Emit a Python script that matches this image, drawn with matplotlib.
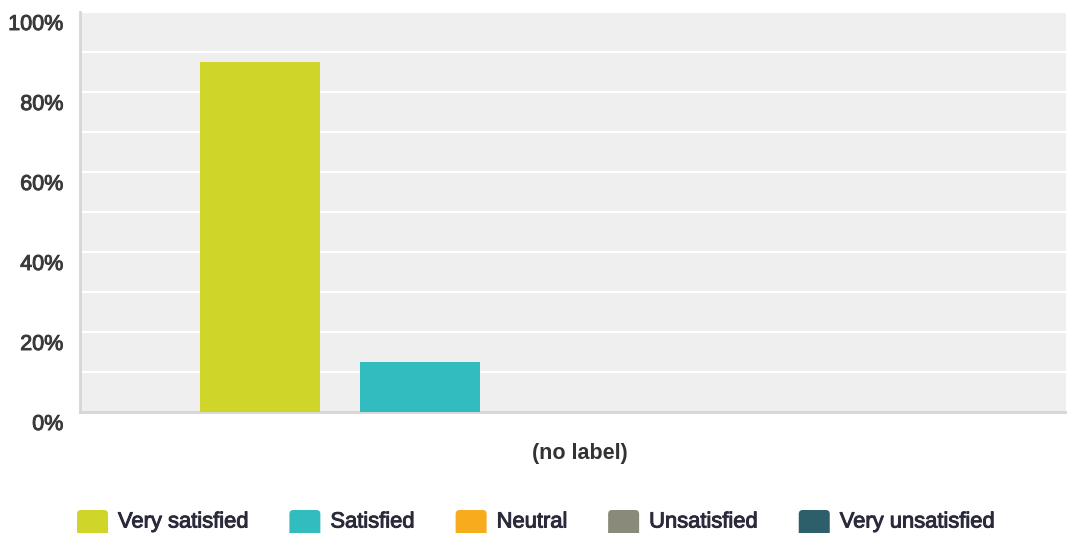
import matplotlib
matplotlib.use("Agg")
import matplotlib.pyplot as plt
import matplotlib.transforms as mtransforms
import matplotlib.patheffects as pe
from matplotlib.patches import FancyBboxPatch
import numpy as np

plt.rcParams['font.family'] = ['Liberation Sans', 'DejaVu Sans']

group_label = "(no label)"
categories = ["Very satisfied", "Satisfied", "Neutral", "Unsatisfied", "Very unsatisfied"]
values = [87.5, 12.5, 0, 0, 0]
colors = ["#cfd529", "#33bcc0", "#f6ac1d", "#898a79", "#2d5f6b"]
yticks = [0, 20, 40, 60, 80, 100]
ytick_labels = ["0%", "20%", "40%", "60%", "80%", "100%"]

W, H = 1067, 533
fig = plt.figure(figsize=(W / 100, H / 100), dpi=100)
ax = fig.add_axes([80 / W, (H - 412) / H, (1066 - 80) / W, 400 / H])
ax.set_facecolor("#efefef")

x = np.arange(len(categories))
ax.bar(x, values, width=0.75, color=colors, zorder=3)
ax.set_xlim(-1.125, 4.1 + 0.94)
ax.set_ylim(0, 100)

for g in range(10, 101, 10):
    ax.axhline(g, color="white", lw=1.6, zorder=1)

heavy = lambda c: [pe.withStroke(linewidth=0.7, foreground=c)]

ax.set_yticks(yticks)
ax.set_yticklabels(ytick_labels, fontsize=15.5, color="#3a3a3a")
ax.tick_params(axis="y", length=0, pad=12)
offset = mtransforms.ScaledTranslation(0, -10 / 100, fig.dpi_scale_trans)
for lab in ax.get_yticklabels():
    lab.set_transform(lab.get_transform() + offset)
    lab.set_path_effects(heavy("#3a3a3a"))

ax.set_xticks([x.mean()])
ax.set_xticklabels([group_label], fontsize=15.5, fontweight="bold", color="#333333")
ax.tick_params(axis="x", length=0, pad=22)

for s in ["top", "right"]:
    ax.spines[s].set_visible(False)
ax.spines["left"].set_color("#d6d6d6")
ax.spines["left"].set_linewidth(2)
ax.spines["bottom"].set_color("#d6d6d6")
ax.spines["bottom"].set_linewidth(2)

# legend drawn manually
renderer = fig.canvas.get_renderer()
xpos = 77
sq = 31
for cat, col in zip(categories, colors):
    p = FancyBboxPatch((xpos + 2, -6), sq - 4, sq - 4,
                       boxstyle="round,pad=2,rounding_size=4",
                       transform=None, facecolor=col, edgecolor="none")
    fig.patches.append(p)
    t = fig.text((xpos + sq + 10) / W, (H - 522) / H, cat, fontsize=15.8,
                 color="#2a2a3a", va="center", ha="left",
                 path_effects=heavy("#2a2a3a"))
    bb = t.get_window_extent(renderer)
    xpos = bb.x1 + 41

fig.savefig("out.png", dpi=100)
